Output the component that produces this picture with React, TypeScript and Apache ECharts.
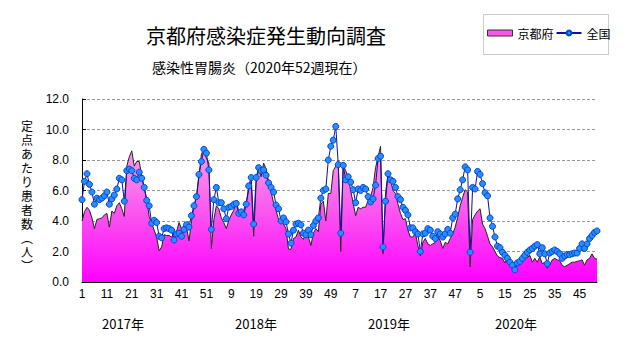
import React, { useEffect, useRef } from "react";
import * as echarts from "echarts";

const years = [2017, 2018, 2019, 2020];
const weeksPerYear = 52;
const yearLabels = ["2017年", "2018年", "2019年", "2020年"];
const titleText = "京都府感染症発生動向調査";
const subTitleText = "感染性胃腸炎（2020年52週現在）";
const seriesNames = ["京都府", "全国"];

// 京都府 (定点あたり患者数)
const kyoto2017 = [
  4.0, 4.6, 4.9, 4.7, 4.2, 3.5, 4.1, 4.15, 4.2, 4.4,
  4.5, 3.6, 4.65, 4.5, 5.0, 5.2, 4.8, 4.3, 7.6, 8.2,
  8.6, 7.6, 7.9, 7.9, 7.0, 6.2, 5.45, 4.3, 3.85, 3.4,
  2.95, 2.05, 2.3, 3.1, 3.05, 3.05, 2.95, 3.2, 3.3, 3.9,
  3.5, 3.6, 3.6, 2.7, 3.95, 5.0, 5.55, 6.9, 8.4, 8.7,
  8.1, 7.8,
];
const kyoto2018 = [
  2.2, 4.1, 5.0, 4.8, 4.2, 3.9, 3.5, 4.05, 4.4, 4.7,
  5.35, 4.6, 4.35, 4.7, 5.2, 6.0, 6.6, 3.0, 6.5, 7.4,
  6.9, 7.8, 7.4, 6.6, 5.9, 5.2, 4.7, 4.1, 3.95, 3.8,
  3.5, 2.15, 2.15, 2.85, 2.95, 3.4, 2.95, 2.8, 3.3, 2.95,
  2.4, 3.2, 3.5, 3.3, 5.1, 5.3, 4.0, 5.8, 5.8, 7.3,
  7.6, 7.8,
];
const kyoto2019 = [
  2.0, 7.65, 7.3, 6.85, 6.0, 5.15, 4.35, 4.9, 4.8, 4.9,
  4.9, 5.35, 5.6, 6.2, 7.5, 8.2, 8.9, 1.85, 5.8, 7.1,
  6.7, 6.0, 5.8, 5.1, 4.5, 4.1, 4.15, 3.4, 2.95, 2.95,
  3.2, 2.4, 1.7, 2.6, 2.85, 2.5, 2.4, 2.5, 2.6, 3.05,
  2.7, 2.2, 2.6, 2.5, 2.85, 3.15, 3.6, 4.25, 5.0, 5.55,
  6.05, 5.9,
];
const kyoto2020 = [
  1.0, 4.1, 4.4, 4.65, 4.8, 3.8, 3.5, 3.0, 2.5, 2.3,
  2.0, 1.7, 1.6, 1.55, 1.25, 1.55, 1.2, 0.9, 1.05, 1.2,
  1.3, 1.5, 1.7, 1.6, 1.75, 1.3, 1.55, 1.3, 1.65, 1.2,
  1.3, 0.9, 1.1, 1.45, 1.55, 1.45, 1.4, 1.1, 1.0, 1.1,
  1.2, 1.3, 1.3, 1.35, 1.4, 1.45, 1.1, 1.45, 1.55, 1.85,
  1.55, 1.5,
];

// 全国 (定点あたり患者数)
const national2017 = [
  5.4, 6.6, 7.1, 6.4, 5.9, 5.1, 5.5, 5.4, 5.5, 5.65,
  5.9, 5.1, 5.45, 5.7, 6.1, 6.8, 6.7, 5.3, 7.3, 7.4,
  7.3, 6.8, 6.7, 7.2, 6.8, 6.2, 5.35, 5.0, 3.85, 4.05,
  3.9, 3.0, 2.9, 3.5, 3.55, 3.5, 3.4, 2.75, 3.15, 3.2,
  3.0, 3.45, 3.75, 3.6, 4.35, 5.0, 5.6, 7.05, 7.9, 8.7,
  8.45, 7.35,
];
const national2018 = [
  3.45, 5.4, 6.2, 5.2, 5.2, 4.8, 4.15, 4.9, 4.95, 5.1,
  5.15, 4.5, 4.6, 4.4, 5.1, 6.3, 6.85, 3.8, 6.85, 7.5,
  7.3, 7.35, 7.0, 6.5, 6.2, 5.9, 5.05, 4.8, 4.0, 4.2,
  3.95, 3.15, 2.55, 3.4, 3.8, 3.85, 3.75, 3.2, 3.1, 3.4,
  3.1, 3.7, 4.0, 4.2, 5.5, 6.0, 6.1, 8.0, 8.9, 9.3,
  10.2, 7.7,
];
const national2019 = [
  3.2, 7.65, 6.7, 6.9, 6.55, 6.05, 5.2, 6.1, 6.0, 6.2,
  6.1, 5.6, 5.25, 5.45, 6.35, 8.1, 8.25, 2.3, 5.3, 7.1,
  6.7, 6.6, 6.2, 5.6, 5.4, 4.9, 4.7, 4.4, 3.55, 3.55,
  3.3, 3.15, 2.0, 3.15, 3.2, 3.5, 3.4, 3.0, 2.85, 3.3,
  3.15, 2.95, 3.15, 3.45, 3.2, 4.2, 4.45, 5.45, 6.05, 6.7,
  7.55, 7.35,
];
const national2020 = [
  1.95, 6.2, 6.1, 7.25, 7.05, 6.45, 5.85, 5.65, 4.2, 3.65,
  2.95, 2.35, 2.25, 1.95, 1.75, 1.55, 1.3, 1.1, 0.8, 1.25,
  1.35, 1.55, 1.75, 1.95, 2.1, 2.2, 2.35, 2.45, 1.85, 2.25,
  1.85, 1.2, 1.9, 2.0, 2.1, 2.0, 1.85, 1.55, 1.7, 1.8,
  1.8, 1.85, 1.9, 1.9, 2.2, 2.5, 2.2, 2.5, 2.85, 3.05,
  3.25, 3.35,
];

const yAxisNameChars = ["定", "点", "あ", "た", "り", "患", "者", "数", "︵", "人", "︶"];

export default function App() {
  const ref = useRef<HTMLDivElement>(null);

  useEffect(() => {
    document.body.style.margin = "0";
    if (!ref.current) return;
    const chart = echarts.init(ref.current, null, { renderer: "svg" });

    const categories: string[] = [];
    years.forEach((y) => {
      for (let w = 1; w <= weeksPerYear; w++) categories.push(`${y}-${w}`);
    });
    const kyoto = [...kyoto2017, ...kyoto2018, ...kyoto2019, ...kyoto2020];
    const national = [...national2017, ...national2018, ...national2019, ...national2020];

    const areaGradient = new echarts.graphic.LinearGradient(
      0, 99, 0, 282,
      [
        { offset: 0, color: "#FCC6F2" },
        { offset: 0.45, color: "#FA7BEA" },
        { offset: 1, color: "#FF00FF" },
      ],
      true
    );

    const narrowFont = "'Liberation Sans Narrow', 'Liberation Sans', sans-serif";
    const jpFont = "'Noto Sans CJK JP', sans-serif";
    const vertFont = "'DejaVu Sans', 'Noto Sans CJK JP', sans-serif";
    const yearCenters = [123, 256, 389, 516];

    const option: any = {
      animation: false,
      backgroundColor: "#ffffff",
      title: [
        {
          text: titleText,
          left: 146,
          top: 25,
          padding: 0,
          textStyle: { fontSize: 20, fontWeight: "normal", fontFamily: jpFont, color: "#000" },
        },
        {
          text: subTitleText,
          left: 152,
          top: 60,
          padding: 0,
          textStyle: { fontSize: 14, fontWeight: "normal", fontFamily: jpFont, color: "#000" },
        },
      ],
      legend: {
        left: 483,
        top: 14,
        padding: [13, 1, 13, 4],
        itemWidth: 25,
        itemHeight: 6,
        itemGap: 2,
        textStyle: { fontSize: 12, fontFamily: jpFont, color: "#000" },
        data: [
          {
            name: seriesNames[0],
            icon: "rect",
            itemStyle: { color: "#FF55EE", borderColor: "#333", borderWidth: 1 },
          },
          { name: seriesNames[1] },
        ],
      },
      grid: { left: 82, right: 34, top: 99, bottom: 65 },
      xAxis: {
        type: "category",
        data: categories,
        boundaryGap: false,
        axisLine: { show: true, lineStyle: { color: "#000", width: 1 } },
        axisTick: { show: true, inside: true, length: 4, interval: 4, lineStyle: { color: "#000" } },
        axisLabel: {
          interval: 9,
          margin: 6,
          fontSize: 12,
          fontFamily: narrowFont,
          color: "#000",
          formatter: (v: string) => v.split("-")[1],
        },
        splitLine: { show: false },
      },
      yAxis: {
        type: "value",
        min: 0,
        max: 12,
        interval: 2,
        axisLine: { show: true, lineStyle: { color: "#000", width: 1 } },
        axisTick: { show: true, inside: true, length: 4, lineStyle: { color: "#000" } },
        axisLabel: {
          margin: 13,
          fontSize: 12,
          fontFamily: narrowFont,
          color: "#000",
          formatter: (v: number) => v.toFixed(1),
        },
        splitLine: { show: true, lineStyle: { color: "#999", type: [3, 2], width: 1 } },
      },
      series: [
        {
          name: seriesNames[0],
          type: "line",
          data: kyoto,
          symbol: "none",
          showSymbol: false,
          lineStyle: { color: "#222", width: 1 },
          itemStyle: { color: "#FF55EE", borderColor: "#333" },
          areaStyle: { color: areaGradient, opacity: 1 },
          z: 2,
        },
        {
          name: seriesNames[1],
          type: "line",
          data: national,
          symbol: "circle",
          symbolSize: 6,
          showSymbol: true,
          showAllSymbol: true,
          lineStyle: { color: "#10109A", width: 1 },
          itemStyle: { color: "#2A8CFF", borderColor: "#0048D0", borderWidth: 1 },
          z: 3,
        },
      ],
      graphic: [
        {
          type: "rect",
          shape: { x: 483.5, y: 14.5, width: 125, height: 40 },
          style: { fill: "none", stroke: "#999", lineWidth: 1, lineDash: [1, 1] },
          silent: true,
        },
        ...yAxisNameChars.map((c, i) => ({
          type: "text",
          x: 27,
          y: 127 + i * 14,
          style: {
            text: c,
            fontSize: 12,
            fontFamily: vertFont,
            fill: "#000",
            align: "center",
            verticalAlign: "middle",
          },
        })),
        ...yearLabels.map((t, i) => ({
          type: "text",
          x: yearCenters[i],
          y: 323,
          style: {
            text: t,
            fontSize: 13,
            fontFamily: jpFont,
            fill: "#000",
            align: "center",
            verticalAlign: "middle",
          },
        })),
      ],
    };

    chart.setOption(option);
    return () => chart.dispose();
  }, []);

  return <div ref={ref} style={{ width: 631, height: 347 }} />;
}
